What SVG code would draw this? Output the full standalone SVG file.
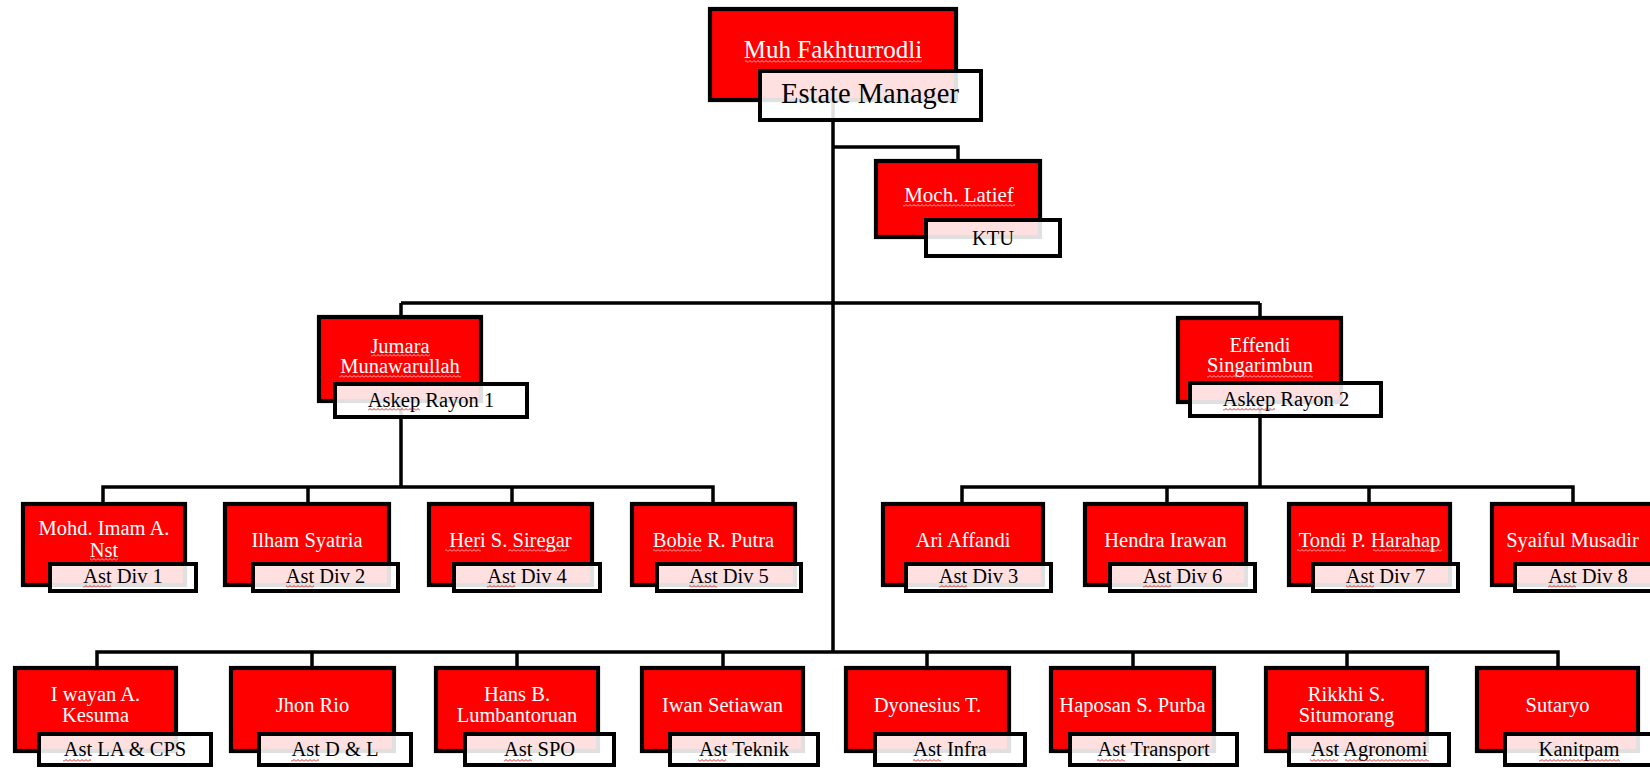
<svg xmlns="http://www.w3.org/2000/svg" width="1650" height="768" viewBox="0 0 1650 768">
<defs>
<pattern id="sqR" width="4" height="3" patternUnits="userSpaceOnUse"><path d="M0 2.5 L2 0.5 L4 2.5" fill="none" stroke="#e01010" stroke-width="0.9"/></pattern>
<pattern id="sqP" width="4" height="3" patternUnits="userSpaceOnUse"><path d="M0 2.5 L2 0.5 L4 2.5" fill="none" stroke="#ffc8c8" stroke-width="0.9"/></pattern>
<style>
.r{fill:#ff0000;stroke:#000;stroke-width:4.2}
.w{fill:#fff;fill-opacity:0.88;stroke:#000;stroke-width:4}
.c{fill:none;stroke:#000;stroke-width:3.5}
.n{font-family:"Liberation Serif","Times New Roman",serif;font-size:20.5px;fill:#fff;text-anchor:middle}
.t{font-family:"Liberation Serif","Times New Roman",serif;font-size:20.5px;fill:#000;text-anchor:middle}
.sr{fill:url(#sqR)}
.sp{fill:url(#sqP)}
</style>
</defs>
<rect width="1650" height="768" fill="#fff"/>
<g id="connectors">
<path class="c" d="M833 60 V652"/>
<path class="c" d="M833 147 H958 V165"/>
<path class="c" d="M401 303 H1260"/>
<path class="c" d="M401 303 V487"/>
<path class="c" d="M1260 303 V487"/>
<path class="c" d="M103 510 V487 H713 V510"/>
<path class="c" d="M308 487 V510 M512 487 V510"/>
<path class="c" d="M962 510 V487 H1573 V510"/>
<path class="c" d="M1167 487 V510 M1369 487 V510"/>
<path class="c" d="M97 672 V652 H1558 V672"/>
<path class="c" d="M312 652 V672 M517 652 V672 M723 652 V672 M927 652 V672 M1133 652 V672 M1347 652 V672"/>
</g>
<g id="n-em">
<rect class="r" x="710" y="9" width="246" height="91"/>
<rect class="w" x="760" y="71" width="221" height="49"/>
<text class="n" x="833" y="58" style="font-size:25px">Muh Fakhturrodli</text>
<rect class="sp" x="745" y="60" width="177" height="3"/>
<text class="t" x="870" y="103" style="font-size:28.5px">Estate Manager</text>
</g>
<g id="n-ktu">
<rect class="r" x="876" y="161" width="164" height="76"/>
<rect class="w" x="926" y="220" width="134" height="36"/>
<text class="n" x="959" y="202" style="font-size:21px">Moch. Latief</text>
<rect class="sp" x="903" y="204" width="112" height="3"/>
<text class="t" x="993" y="245">KTU</text>
</g>
<g id="n-rayon1">
<rect class="r" x="319" y="317" width="162" height="84"/>
<rect class="w" x="335" y="384" width="192" height="33"/>
<text class="n" x="400" y="353">Jumara</text>
<text class="n" x="400" y="373">Munawarullah</text>
<rect class="sp" x="371" y="354" width="59" height="3"/>
<rect class="sp" x="339" y="375" width="122" height="3"/>
<text class="t" x="431" y="407">Askep Rayon 1</text>
<rect class="sr" x="368" y="408" width="52" height="3"/>
</g>
<g id="n-rayon2">
<rect class="r" x="1178" y="318" width="163" height="84"/>
<rect class="w" x="1190" y="383" width="191" height="33"/>
<text class="n" x="1260" y="352">Effendi</text>
<text class="n" x="1260" y="372">Singarimbun</text>
<rect class="sp" x="1207" y="375" width="106" height="3"/>
<text class="t" x="1286" y="406">Askep Rayon 2</text>
<rect class="sr" x="1223" y="408" width="52" height="3"/>
</g>
<g id="n-div1">
<rect class="r" x="23" y="504" width="162" height="81"/>
<rect class="w" x="50" y="564" width="146" height="27"/>
<text class="n" x="104" y="535">Mohd. Imam A.</text>
<text class="n" x="104" y="557">Nst</text>
<rect class="sp" x="90" y="558" width="28" height="3"/>
<text class="t" x="123" y="583">Ast Div 1</text>
<rect class="sr" x="83" y="585" width="28" height="3"/>
</g>
<g id="n-div2">
<rect class="r" x="225" y="504" width="164" height="81"/>
<rect class="w" x="253" y="564" width="145" height="27"/>
<text class="n" x="307" y="547">Ilham Syatria</text>
<text class="t" x="325.5" y="583">Ast Div 2</text>
<rect class="sr" x="286" y="585" width="28" height="3"/>
</g>
<g id="n-div4">
<rect class="r" x="429" y="504" width="163" height="81"/>
<rect class="w" x="454" y="564" width="146" height="27"/>
<text class="n" x="510.5" y="547">Heri S. Siregar</text>
<rect class="sp" x="445" y="549" width="36" height="3"/>
<rect class="sp" x="508" y="549" width="59" height="3"/>
<text class="t" x="527" y="583">Ast Div 4</text>
<rect class="sr" x="487" y="585" width="28" height="3"/>
</g>
<g id="n-div5">
<rect class="r" x="632" y="504" width="163" height="81"/>
<rect class="w" x="657" y="564" width="144" height="27"/>
<text class="n" x="713.5" y="547">Bobie R. Putra</text>
<rect class="sp" x="653" y="549" width="49" height="3"/>
<text class="t" x="729" y="583">Ast Div 5</text>
<rect class="sr" x="689" y="585" width="28" height="3"/>
</g>
<g id="n-div3">
<rect class="r" x="883" y="504" width="160" height="81"/>
<rect class="w" x="906" y="564" width="145" height="27"/>
<text class="n" x="963" y="547">Ari Affandi</text>
<text class="t" x="978.5" y="583">Ast Div 3</text>
<rect class="sr" x="939" y="585" width="28" height="3"/>
</g>
<g id="n-div6">
<rect class="r" x="1085" y="504" width="161" height="81"/>
<rect class="w" x="1110" y="564" width="145" height="27"/>
<text class="n" x="1165.5" y="547">Hendra Irawan</text>
<text class="t" x="1182.5" y="583">Ast Div 6</text>
<rect class="sr" x="1143" y="585" width="28" height="3"/>
</g>
<g id="n-div7">
<rect class="r" x="1289" y="504" width="161" height="81"/>
<rect class="w" x="1313" y="564" width="145" height="27"/>
<text class="n" x="1369.5" y="547">Tondi P. Harahap</text>
<rect class="sp" x="1297" y="549" width="49" height="3"/>
<rect class="sp" x="1373" y="549" width="69" height="3"/>
<text class="t" x="1385.5" y="583">Ast Div 7</text>
<rect class="sr" x="1346" y="585" width="28" height="3"/>
</g>
<g id="n-div8">
<rect class="r" x="1492" y="504" width="161" height="81"/>
<rect class="w" x="1515" y="564" width="146" height="27"/>
<text class="n" x="1572.5" y="547">Syaiful Musadir</text>
<text class="t" x="1588" y="583">Ast Div 8</text>
<rect class="sr" x="1548" y="585" width="28" height="3"/>
</g>
<g id="n-lacps">
<rect class="r" x="15" y="668" width="161" height="83"/>
<rect class="w" x="39" y="734" width="172" height="31"/>
<text class="n" x="95.5" y="701">I wayan A.</text>
<text class="n" x="95.5" y="722">Kesuma</text>
<text class="t" x="125" y="756">Ast LA &amp; CPS</text>
<rect class="sr" x="63" y="759" width="28" height="3"/>
</g>
<g id="n-dl">
<rect class="r" x="231" y="668" width="163" height="83"/>
<rect class="w" x="259" y="734" width="152" height="31"/>
<text class="n" x="312.5" y="712">Jhon Rio</text>
<text class="t" x="335" y="756">Ast D &amp; L</text>
<rect class="sr" x="291" y="759" width="28" height="3"/>
</g>
<g id="n-spo">
<rect class="r" x="436" y="668" width="162" height="83"/>
<rect class="w" x="465" y="734" width="149" height="31"/>
<text class="n" x="517" y="701">Hans B.</text>
<text class="n" x="517" y="722">Lumbantoruan</text>
<text class="t" x="539.5" y="756">Ast SPO</text>
<rect class="sr" x="504" y="759" width="28" height="3"/>
</g>
<g id="n-teknik">
<rect class="r" x="642" y="668" width="161" height="83"/>
<rect class="w" x="670" y="734" width="148" height="31"/>
<text class="n" x="722.5" y="712">Iwan Setiawan</text>
<text class="t" x="744" y="756">Ast Teknik</text>
<rect class="sr" x="698" y="759" width="28" height="3"/>
</g>
<g id="n-infra">
<rect class="r" x="846" y="668" width="163" height="83"/>
<rect class="w" x="875" y="734" width="150" height="31"/>
<text class="n" x="927.5" y="712">Dyonesius T.</text>
<text class="t" x="950" y="756">Ast Infra</text>
<rect class="sr" x="913" y="759" width="28" height="3"/>
</g>
<g id="n-transport">
<rect class="r" x="1051" y="668" width="163" height="83"/>
<rect class="w" x="1070" y="734" width="167" height="31"/>
<text class="n" x="1132.5" y="712">Haposan S. Purba</text>
<text class="t" x="1153.5" y="756">Ast Transport</text>
<rect class="sr" x="1097" y="759" width="28" height="3"/>
</g>
<g id="n-agronomi">
<rect class="r" x="1266" y="668" width="161" height="83"/>
<rect class="w" x="1289" y="734" width="160" height="31"/>
<text class="n" x="1346.5" y="701">Rikkhi S.</text>
<text class="n" x="1346.5" y="722">Situmorang</text>
<text class="t" x="1369" y="756">Ast Agronomi</text>
<rect class="sr" x="1310" y="759" width="28" height="3"/>
<rect class="sr" x="1345" y="759" width="84" height="3"/>
</g>
<g id="n-kanitpam">
<rect class="r" x="1477" y="668" width="161" height="83"/>
<rect class="w" x="1505" y="734" width="148" height="31"/>
<text class="n" x="1557.5" y="712">Sutaryo</text>
<text class="t" x="1579" y="756">Kanitpam</text>
<rect class="sr" x="1539" y="759" width="81" height="3"/>
</g>
</svg>
